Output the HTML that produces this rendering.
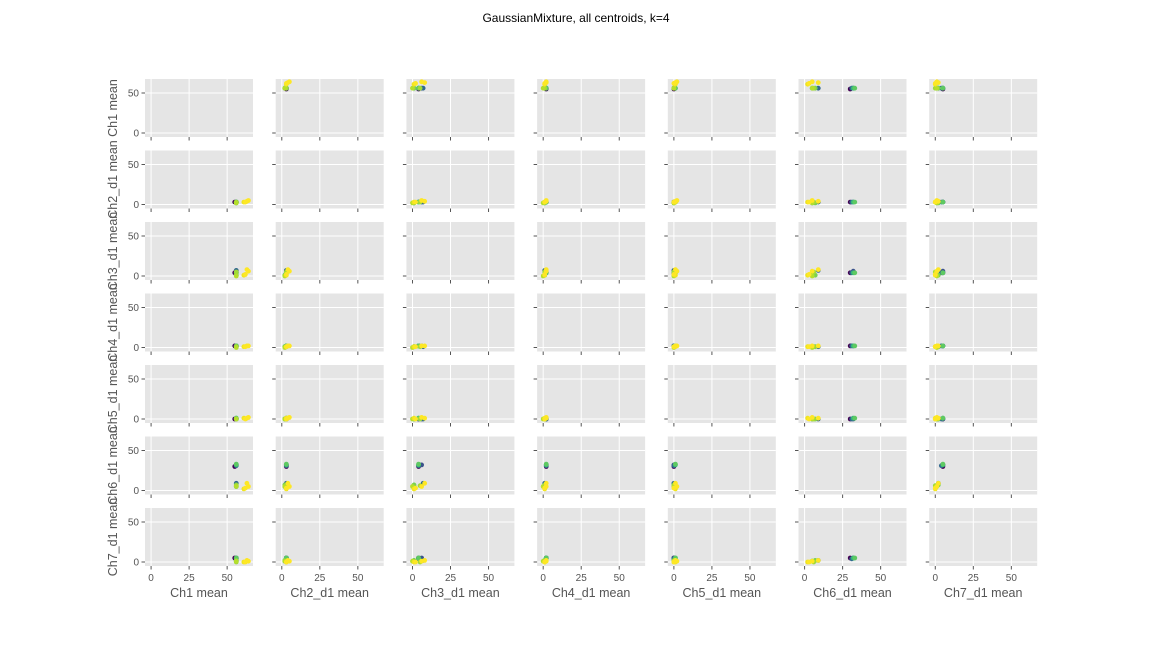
<!DOCTYPE html>
<html><head><meta charset="utf-8"><style>
body{margin:0;background:#fff;}
svg{display:block;font-family:"Liberation Sans",sans-serif;}
</style></head><body>
<svg id="chart" width="1152" height="648" viewBox="0 0 1152 648" xmlns="http://www.w3.org/2000/svg">
<text x="576" y="22" text-anchor="middle" font-size="12" fill="#000">GaussianMixture, all centroids, k=4</text>
</svg>
<script>
const dims = ["Ch1 mean","Ch2_d1 mean","Ch3_d1 mean","Ch4_d1 mean","Ch5_d1 mean","Ch6_d1 mean","Ch7_d1 mean"];
const ticks = [0,25,50];
const yTicks = [0,50];
// each centroid: values for Ch1..Ch7 (dark clusters first, yellow last)
const ch1 = [55,56,56,56,56,56,56,56,56,56,61,63,62,64];
const ch2 = [3,3,3,3,2,3,3,2,3,2,3,4,3,5];
const ch3 = [4,6,4,7,1,4,4,1,5,0,1,8,2,6];
const ch4 = [2,2,2,1,1,2,2,1,1,0,1,2,1,2];
const ch5 = [0,0,0,0,0,1,1,0,0,0,1,1,0,2];
const ch6 = [30,32,31,9,5,32,33,7,6,5,2,9,3,5];
const ch7 = [5,5,4,2,1,5,5,2,0,1,0,2,0,1];
const colors = ["#440154","#3b528b","#31688e","#31688e","#22a884","#35b779","#5ec962","#7ad151","#a0da39","#b5de2b","#f0e51e","#fde725","#fde725","#fde725"];
const series = [ch1,ch2,ch3,ch4,ch5,ch6,ch7];

const NS="http://www.w3.org/2000/svg";
const svg=document.getElementById('chart');
const colLeft=145, colStep=130.7, pw=108;
const rowTop=79, rowStep=71.5, ph=58;
const xmin=-4, xmax=67, ymin=-5, ymax=67.5;
function mk(tag,attrs){const e=document.createElementNS(NS,tag);for(const k in attrs)e.setAttribute(k,attrs[k]);return e;}

for(let r=0;r<7;r++){
  for(let c=0;c<7;c++){
    const x0=colLeft+c*colStep, y0=rowTop+r*rowStep;
    const sx=v=>x0+(v-xmin)/(xmax-xmin)*pw;
    const sy=v=>y0+ph-(v-ymin)/(ymax-ymin)*ph;
    const g=mk('g',{});
    
    
    const bg=mk('rect',{x:x0,y:y0,width:pw,height:ph,fill:'#e5e5e5'});
    
    
    g.appendChild(bg);
    ticks.forEach(t=>{
      const l=mk('line',{x1:sx(t),x2:sx(t),y1:y0,y2:y0+ph,stroke:'#fff','stroke-width':1});
      
      
      g.appendChild(l);
      const tk=mk('line',{x1:sx(t),x2:sx(t),y1:y0+ph,y2:y0+ph+3.5,stroke:'#555','stroke-width':1});
      
      
      g.appendChild(tk);
      if(r===6){
        const tl=mk('text',{x:sx(t),y:y0+ph+15,'text-anchor':'middle','font-size':10,fill:'#555'});
        tl.textContent=t;
        
        
        g.appendChild(tl);
      }
    });
    yTicks.forEach(t=>{
      const l=mk('line',{x1:x0,x2:x0+pw,y1:sy(t),y2:sy(t),stroke:'#fff','stroke-width':1});
      
      
      g.appendChild(l);
      const tk=mk('line',{x1:x0-3.5,x2:x0,y1:sy(t),y2:sy(t),stroke:'#555','stroke-width':1});
      
      
      g.appendChild(tk);
      if(c===0){
        const tl=mk('text',{x:x0-6,y:sy(t)+3.5,'text-anchor':'end','font-size':10,fill:'#555'});
        tl.textContent=t;
        
        
        g.appendChild(tl);
      }
    });
    if(r!==c){
      const xs=series[c], ys=series[r];
      for(let i=0;i<xs.length;i++){
        const p=mk('circle',{cx:sx(xs[i]),cy:sy(ys[i]),r:2.4,fill:colors[i]});
        
        
        g.appendChild(p);
      }
    }
    if(r===6){
      const xl=mk('text',{x:x0+pw/2,y:y0+ph+31,'text-anchor':'middle','font-size':12.5,fill:'#555'});
      xl.textContent=dims[c];
      
      
      g.appendChild(xl);
    }
    if(c===0){
      const yc=y0+ph/2;
      const yl=mk('text',{x:117,y:yc,'text-anchor':'middle','font-size':12.5,fill:'#555',transform:'rotate(-90 117 '+yc+')'});
      yl.textContent=dims[r];
      
      
      g.appendChild(yl);
    }
    svg.appendChild(g);
  }
}
</script>
</body></html>
